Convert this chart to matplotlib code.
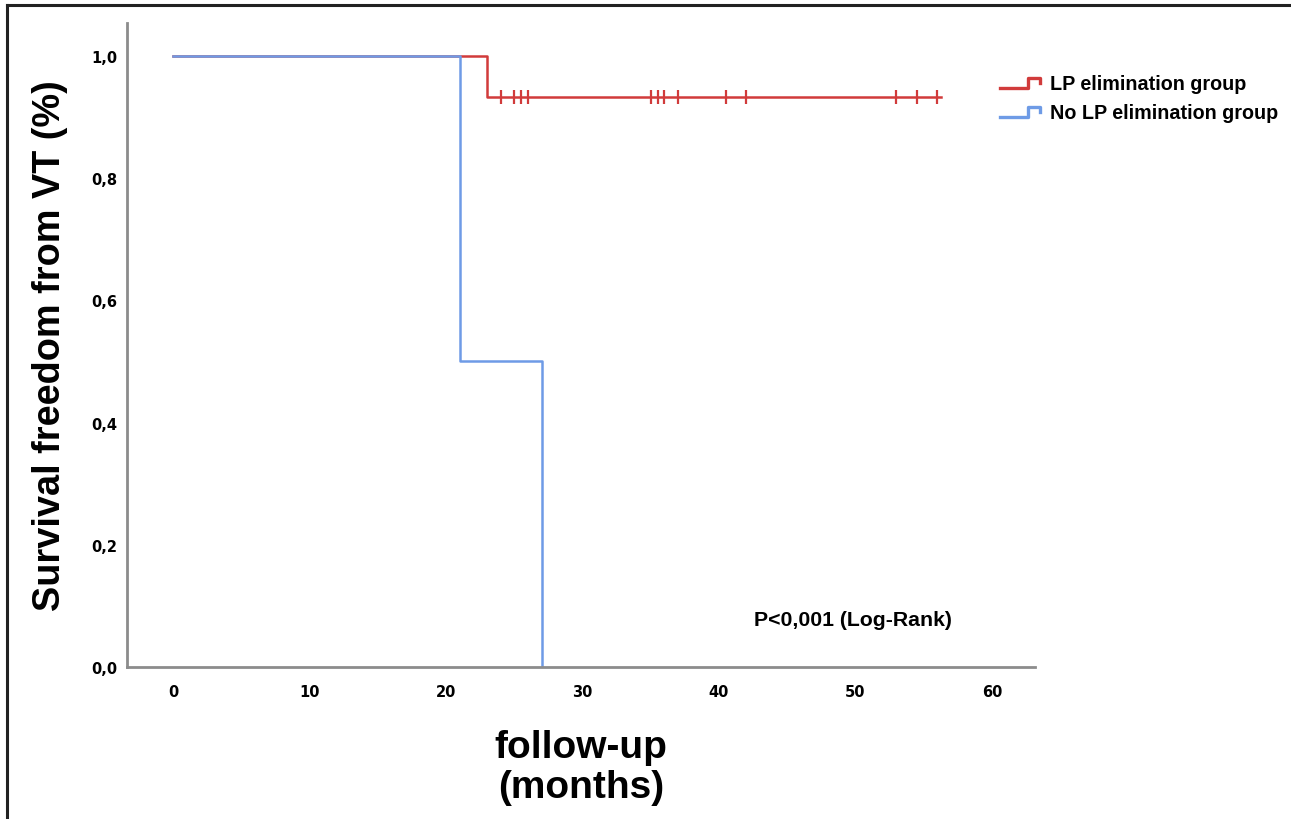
# Kaplan-Meier style plot: freedom from VT, LP elimination vs no LP elimination
import matplotlib
matplotlib.use('Agg')
import matplotlib.pyplot as plt
from matplotlib.lines import Line2D
from matplotlib.legend_handler import HandlerBase

plt.rcParams['font.family'] = ['Liberation Sans', 'DejaVu Sans']

# step curves (time in months, survival)
lp_time = [0, 23, 23, 56.3]
lp_surv = [1.0, 1.0, 0.933, 0.933]
lp_censor = [24, 25, 25.5, 26, 35, 35.5, 36, 37, 40.5, 42, 53, 54.5, 56]

nolp_time = [0, 21, 21, 27, 27]
nolp_surv = [1.0, 1.0, 0.5, 0.5, 0.0]

xticks = [0, 10, 20, 30, 40, 50, 60]
yticks = [0.0, 0.2, 0.4, 0.6, 0.8, 1.0]
ytick_labels = ['0,0', '0,2', '0,4', '0,6', '0,8', '1,0']

red = '#d13b3b'
blue = '#6e9be6'
axis_gray = '#8c8c8c'


# legend handle drawn as a small step
class StepHandler(HandlerBase):
    def create_artists(self, legend, orig_handle, xdescent, ydescent,
                       width, height, fontsize, trans):
        x0 = -xdescent
        y0 = -ydescent
        xs = [x0, x0 + 0.68 * width, x0 + 0.68 * width, x0 + width, x0 + width]
        ys = [y0 + 0.1 * height, y0 + 0.1 * height, y0 + 0.85 * height,
              y0 + 0.85 * height, y0 + 0.45 * height]
        line = Line2D(xs, ys, color=orig_handle.get_color(), lw=2.4,
                      transform=trans)
        return [line]


fig = plt.figure(figsize=(12.91, 8.2), dpi=100)
ax = fig.add_axes([0.0984, 0.1854, 0.7033, 0.7853])

h1, = ax.plot(lp_time, lp_surv, color=red, lw=1.8)
ax.plot(lp_censor, [lp_surv[-1]] * len(lp_censor), linestyle='none',
        marker='|', markersize=10, markeredgewidth=1.6, color=red)
h2, = ax.plot(nolp_time, nolp_surv, color=blue, lw=1.8)

ax.set_xlim(-3.37, 63.15)
ax.set_ylim(0, 1.054)
ax.set_xticks(xticks)
ax.set_xticklabels([str(t) for t in xticks])
ax.set_yticks(yticks)
ax.set_yticklabels(ytick_labels)
ax.tick_params(length=0, labelsize=10.5)
ax.tick_params(axis='x', pad=12)
ax.tick_params(axis='y', pad=7)
for lab in ax.get_xticklabels() + ax.get_yticklabels():
    lab.set_fontweight('bold')
    lab.set_family('DejaVu Sans')

for s in ['top', 'right']:
    ax.spines[s].set_visible(False)
for s in ['left', 'bottom']:
    ax.spines[s].set_color(axis_gray)
    ax.spines[s].set_linewidth(2)

ax.set_ylabel('Survival freedom from VT (%)', fontsize=27.3, fontweight='bold',
              labelpad=17)
ax.set_xlabel('follow-up\n(months)', fontsize=28, fontweight='bold',
              labelpad=22, linespacing=1.12)

ax.text(42.6, 0.077, 'P<0,001 (Log-Rank)', fontsize=15.3, fontweight='bold',
        va='center', ha='left')

leg = fig.legend([h1, h2], ['LP elimination group', 'No LP elimination group'],
                 handler_map={Line2D: StepHandler()},
                 loc='upper left', bbox_to_anchor=(0.7746, 0.908),
                 frameon=False, prop={'weight': 'bold', 'size': 14.2},
                 borderpad=0, borderaxespad=0,
                 handlelength=2.05, handletextpad=0.5, labelspacing=0.5)

# frame lines of the original picture (top and left only)
fig.add_artist(Line2D([0.0054, 1.0], [0.9927, 0.9927], color='#222222',
                      lw=2.2, transform=fig.transFigure))
fig.add_artist(Line2D([0.0054, 0.0054], [0.0, 0.9927], color='#222222',
                      lw=2.2, transform=fig.transFigure))

fig.savefig('out.png', dpi=100)
